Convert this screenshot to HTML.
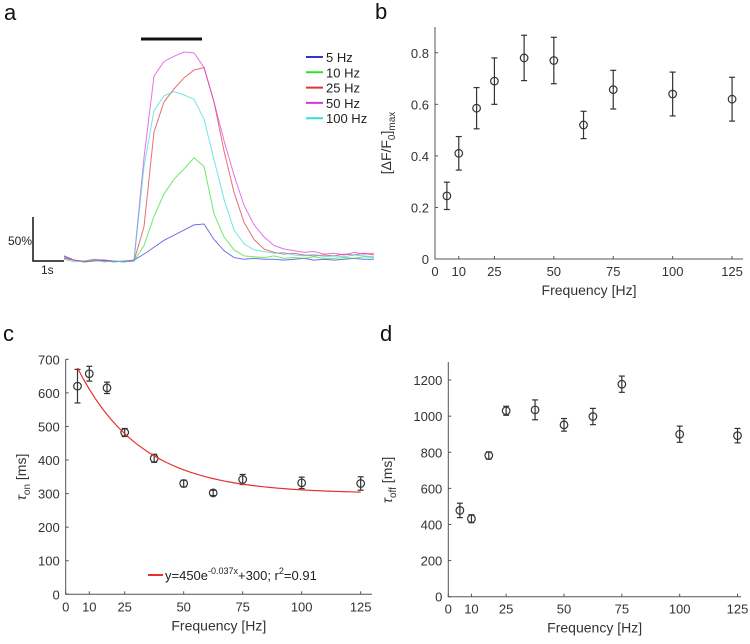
<!DOCTYPE html>
<html><head><meta charset="utf-8"><style>
body{margin:0;background:#fff;}
svg{display:block;font-family:"Liberation Sans",sans-serif;}
</style></head><body>
<svg id="fig" width="750" height="644" viewBox="0 0 750 644">
<text x="4" y="20" font-size="22" fill="#111">a</text>
<text x="375" y="19" font-size="22" fill="#111">b</text>
<text x="3" y="341" font-size="22" fill="#111">c</text>
<text x="380" y="341" font-size="22" fill="#111">d</text>
<g id="pa"></g>
<g id="pb"></g>
<g id="pc"></g>
<g id="pd"></g>
</svg>
<script>
// ---- data ----
const traceLabels = ["5 Hz","10 Hz","25 Hz","50 Hz","100 Hz"];
const traceColors = ["#3333dd","#33dd33","#dd3333","#dd33dd","#33dddd"];
const trace5 = [6,1,-1,1,0,-1,0,1,8,16,24,30,36,42,43,25,12,4,2,3,2,2,1,2,3,1,2,1,2,3,2,2];
const trace10 = [4,1,-1,0,1,-1,0,0,18,52,78,95,107,120,110,55,28,13,6,5,4,6,3,4,3,5,3,3,4,3,5,4];
const trace25 = [3,1,-1,0,1,0,-1,0,40,150,185,200,213,222,225,185,128,80,45,25,14,10,8,9,7,6,7,6,8,7,9,7];
const trace50 = [5,1,0,2,1,0,-1,1,120,215,232,238,243,242,225,185,140,100,65,42,28,18,14,12,10,11,8,9,7,10,8,9];
const trace100 = [2,-1,0,1,-1,0,-1,0,110,175,192,197,193,188,165,118,72,36,20,13,11,9,10,7,6,8,5,6,5,7,6,5];

const freqs = [5,10,17.5,25,37.5,50,62.5,75,100,125];
const xTicks = [0,10,25,50,75,100,125];
const bMean = [0.245,0.41,0.585,0.69,0.78,0.77,0.52,0.657,0.64,0.62];
const bErr = [0.053,0.065,0.08,0.09,0.088,0.09,0.053,0.075,0.085,0.085];
const bTicks = [0,0.2,0.4,0.6,0.8];
const cMean = [620,657,615,482,405,330,302,342,332,330];
const cErr = [50,22,17,12,12,10,8,15,17,20];
const cTicks = [0,100,200,300,400,500,600,700];
const cFitParams = [450,0.037,300];
const dMean = [478,432,782,1030,1035,952,998,1177,900,892];
const dErr = [40,22,20,25,55,35,45,45,45,40];
const dTicks = [0,200,400,600,800,1000,1200];

const NS="http://www.w3.org/2000/svg";
function mk(parent,tag,attrs,text){const e=document.createElementNS(NS,tag);for(const k in attrs)e.setAttribute(k,attrs[k]);if(text!==undefined)e.textContent=text;parent.appendChild(e);return e;}

// ---- panel a ----
const pa=document.getElementById('pa');
const traces=[trace5,trace10,trace25,trace50,trace100];
const aY=v=>261-v*0.86, aX=i=>64+i*10;
traces.forEach((t,k)=>{
  const p=mk(pa,'polyline',{points:t.map((v,i)=>aX(i)+','+aY(v)).join(' '),fill:'none',stroke:traceColors[k],'stroke-width':1,opacity:0.7});
  
  
  const ly=57+k*15.3;
  const l=mk(pa,'line',{x1:306,x2:323,y1:ly,y2:ly,stroke:traceColors[k],'stroke-width':2});
  
  
  const tx=mk(pa,'text',{x:326,y:ly+5,'font-size':13,fill:'#222'},traceLabels[k]);
  
  
});
let e;
e=mk(pa,'line',{x1:141,x2:202,y1:39,y2:39,stroke:'#111','stroke-width':3});

e=mk(pa,'polyline',{points:'33,217 33,261 64,261',fill:'none',stroke:'#111','stroke-width':1.5});

e=mk(pa,'text',{x:8,y:245,'font-size':12,fill:'#222'},'50%');

e=mk(pa,'text',{x:41,y:274,'font-size':12,fill:'#222'},'1s');


// ---- generic scatter panel ----
function panel(g,o){
  const X=v=>o.x0+(v/o.xmax)*(o.x1-o.x0);
  const Y=v=>o.y0-(v/o.ymax)*(o.y0-o.y1);
  const ax=mk(g,'polyline',{points:`${o.x0},${o.y1} ${o.x0},${o.y0} ${o.x1},${o.y0}`,fill:'none',stroke:'#555','stroke-width':1});
  
  xTicks.forEach(t=>{
    mk(g,'line',{x1:X(t),x2:X(t),y1:o.y0,y2:o.y0-3,stroke:'#555'});
    const tx=mk(g,'text',{x:X(t),y:o.y0+17,'font-size':13,fill:'#333','text-anchor':'middle'},t);
    
  });
  o.yt.forEach(t=>{
    mk(g,'line',{x1:o.x0,x2:o.x0+3,y1:Y(t),y2:Y(t),stroke:'#555'});
    const tx=mk(g,'text',{x:o.x0-6,y:Y(t)+5,'font-size':13,fill:'#333','text-anchor':'end'},o.fmt?o.fmt(t):t);
    
  });
  const xt=mk(g,'text',{x:(o.x0+o.x1)/2,y:o.y0+36,'font-size':14,fill:'#333','text-anchor':'middle'},'Frequency [Hz]');
  
  o.mean.forEach((m,i)=>{
    const x=X(freqs[i]),yt=Y(m+o.err[i]),yb=Y(m-o.err[i]);
    const gg=mk(g,'g',{stroke:'#333','stroke-width':1.2,fill:'none'});
    
    mk(gg,'line',{x1:x,x2:x,y1:yt,y2:yb});
    mk(gg,'line',{x1:x-3,x2:x+3,y1:yt,y2:yt});
    mk(gg,'line',{x1:x-3,x2:x+3,y1:yb,y2:yb});
    mk(gg,'circle',{cx:x,cy:Y(m),r:3.8,fill:'none'});
  });
  return {X,Y};
}
const fmtB=t=>t===0?'0':t.toFixed(1);
panel(document.getElementById('pb'),{x0:435,x1:743,y0:259,y1:27,xmax:129.6,ymax:0.9,yt:bTicks,mean:bMean,err:bErr,fmt:fmtB});
e=mk(document.getElementById('pb'),'text',{transform:'translate(391,143) rotate(-90)','font-size':14,fill:'#333','text-anchor':'middle'});
e.innerHTML='[ΔF/F<tspan font-size="10" dy="4">0</tspan><tspan dy="-4">]</tspan><tspan font-size="10" dy="4">max</tspan>';


const pc=document.getElementById('pc');
const sc=panel(pc,{x0:65.7,x1:372,y0:594.3,y1:359.3,xmax:129.8,ymax:700,yt:cTicks,mean:cMean,err:cErr});
const fitX=[];for(let f=5;f<=125;f+=2.5)fitX.push(f);
e=mk(pc,'polyline',{points:fitX.map(f=>sc.X(f)+','+sc.Y(cFitParams[0]*Math.exp(-cFitParams[1]*f)+cFitParams[2])).join(' '),fill:'none',stroke:'#e83030','stroke-width':1.2});

e=mk(pc,'line',{x1:148,x2:163,y1:575,y2:575,stroke:'#e83030','stroke-width':2});

e=mk(pc,'text',{x:165,y:580,'font-size':13,fill:'#222'});
e.innerHTML='y=450e<tspan font-size="9" dy="-6">-0.037x</tspan><tspan dy="6">+300; r</tspan><tspan font-size="9" dy="-6">2</tspan><tspan dy="6">=0.91</tspan>';

e=mk(pc,'text',{transform:'translate(26,477) rotate(-90)','font-size':14,fill:'#333','text-anchor':'middle'});
e.innerHTML='<tspan font-style="italic">τ</tspan><tspan font-size="10" dy="4">on</tspan><tspan dy="-4"> [ms]</tspan>';


const pd=document.getElementById('pd');
panel(pd,{x0:448.3,x1:741,y0:596.7,y1:362,xmax:126.5,ymax:1300,yt:dTicks,mean:dMean,err:dErr});
e=mk(pd,'text',{transform:'translate(392,480) rotate(-90)','font-size':14,fill:'#333','text-anchor':'middle'});
e.innerHTML='<tspan font-style="italic">τ</tspan><tspan font-size="10" dy="4">off</tspan><tspan dy="-4"> [ms]</tspan>';

</script>
</body></html>
